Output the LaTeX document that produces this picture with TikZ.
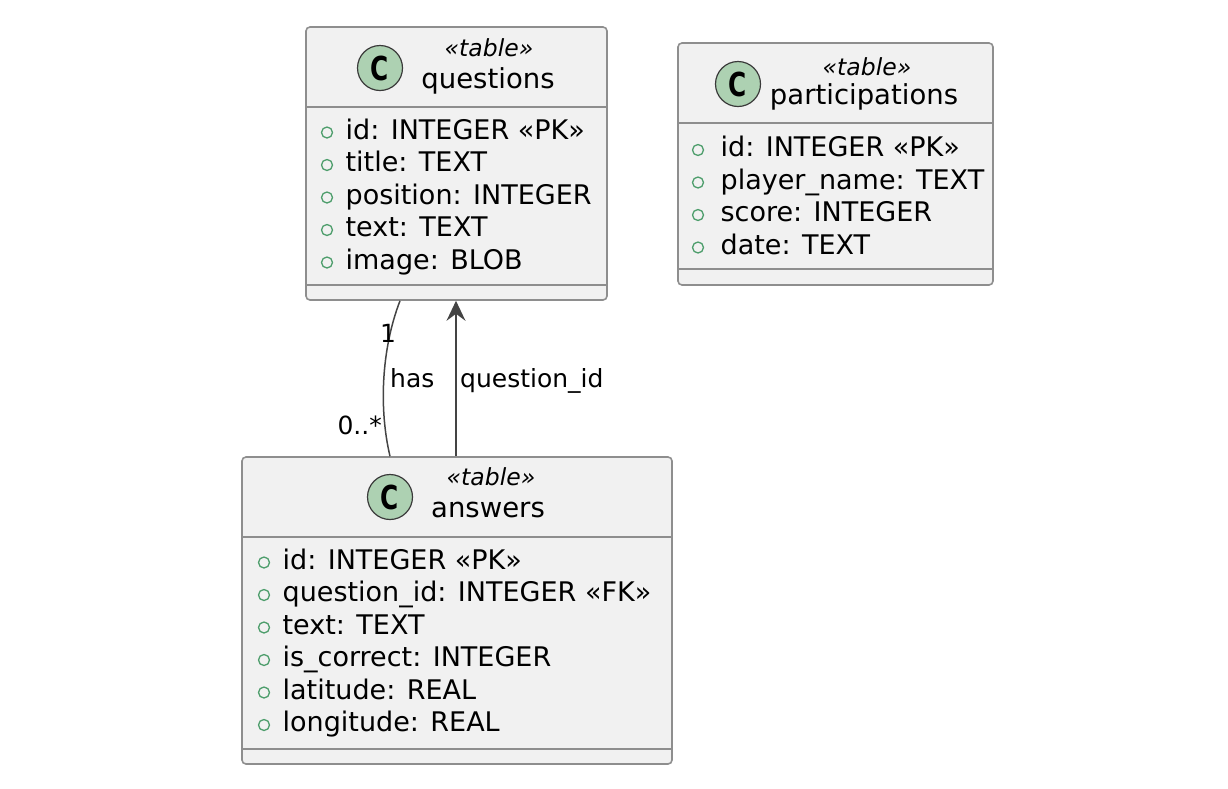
\documentclass[tikz,border=0pt]{standalone}
\usepackage{fontspec}
\setmainfont{DejaVu Sans}
\usepackage{graphicx}
\usetikzlibrary{arrows.meta}
\definecolor{boxfill}{HTML}{F1F1F1}
\definecolor{boxline}{HTML}{8E8E8E}
\definecolor{classfill}{HTML}{ADD1B2}
\definecolor{iconline}{HTML}{3A3A3A}
\definecolor{fieldgreen}{HTML}{4E9E6C}
\definecolor{linkline}{HTML}{444444}
\begin{document}
\begin{tikzpicture}[>={Stealth[length=20pt, width=19pt, inset=7pt]}, x=1pt, y=-1pt,
		tbl/.style={draw=boxline, fill=boxfill, line width=1.6pt, rounded corners=4pt, inner sep=0pt},
		sepline/.style={draw=boxline, line width=1.6pt},
		cicon/.style={circle, draw=iconline, fill=classfill, line width=1.2pt, minimum size=45pt, inner sep=0pt, font=\bfseries\fontsize{33}{33}\selectfont},
		stereo/.style={anchor=base, inner sep=0pt, font=\itshape\fontsize{23.5}{26}\selectfont},
		tname/.style={anchor=base, inner sep=0pt, font=\fontsize{27.5}{30}\selectfont},
		attr/.style={anchor=base west, inner sep=0pt, font=\fontsize{27}{30}\selectfont},
		pub/.style={draw=fieldgreen, line width=1.3pt},
		link/.style={draw=linkline, line width=1.5pt},
		lbl/.style={inner sep=0pt, font=\fontsize{25}{28}\selectfont}]
		\useasboundingbox (0,0) rectangle (1228,788);
		% questions
		\node[tbl, minimum width=301pt, minimum height=273pt] (questions) at (456.5,163.5) {};
		\draw[sepline] (questions.west |- 0,107) -- (questions.east |- 0,107);
		\draw[sepline] (questions.west |- 0,285) -- (questions.east |- 0,285);
		\node[cicon] (qicon) at (380,68) {\scalebox{0.75}[1]{C}};
		\node[stereo] (qstereo) at (489,56) {«table»};
		\node[tname] (qname) at (488,88) {questions};
		\draw[pub] (327,132.5) circle (5.5pt) node[attr] (q1) at (345,139) {id: INTEGER «PK»};
		\draw[pub] (327,165) circle (5.5pt) node[attr] (q2) at (345,171.5) {title: TEXT};
		\draw[pub] (327,197.5) circle (5.5pt) node[attr] (q3) at (345,204) {position: INTEGER};
		\draw[pub] (327,230) circle (5.5pt) node[attr] (q4) at (345,236.5) {text: TEXT};
		\draw[pub] (327,262.5) circle (5.5pt) node[attr] (q5) at (345,269) {image: BLOB};
		% participations
		\node[tbl, minimum width=315pt, minimum height=242pt] (participations) at (835.5,164) {};
		\draw[sepline] (participations.west |- 0,123) -- (participations.east |- 0,123);
		\draw[sepline] (participations.west |- 0,269) -- (participations.east |- 0,269);
		\node[cicon] (picon) at (738,84) {\scalebox{0.75}[1]{C}};
		\node[stereo] (pstereo) at (867,75) {«table»};
		\node[tname] (pname) at (864,104) {participations};
		\draw[pub] (698,150) circle (5.5pt) node[attr] (p1) at (720,156.5) {id: INTEGER «PK»};
		\draw[pub] (698,182.5) circle (5.5pt) node[attr] (p2) at (720,189) {player\_name: TEXT};
		\draw[pub] (698,215) circle (5.5pt) node[attr] (p3) at (720,221.5) {score: INTEGER};
		\draw[pub] (698,247.5) circle (5.5pt) node[attr] (p4) at (720,254) {date: TEXT};
		% answers
		\node[tbl, minimum width=430pt, minimum height=307pt] (answers) at (457,610.5) {};
		\draw[sepline] (answers.west |- 0,537) -- (answers.east |- 0,537);
		\draw[sepline] (answers.west |- 0,749) -- (answers.east |- 0,749);
		\node[cicon] (aicon) at (390,497) {\scalebox{0.75}[1]{C}};
		\node[stereo] (astereo) at (491,485) {«table»};
		\node[tname] (aname) at (488,517) {answers};
		\draw[pub] (264,562.5) circle (5.5pt) node[attr] (a1) at (282,569) {id: INTEGER «PK»};
		\draw[pub] (264,595) circle (5.5pt) node[attr] (a2) at (282,601.5) {question\_id: INTEGER «FK»};
		\draw[pub] (264,627.5) circle (5.5pt) node[attr] (a3) at (282,634) {text: TEXT};
		\draw[pub] (264,660) circle (5.5pt) node[attr] (a4) at (282,666.5) {is\_correct: INTEGER};
		\draw[pub] (264,692.5) circle (5.5pt) node[attr] (a5) at (282,699) {latitude: REAL};
		\draw[pub] (264,725) circle (5.5pt) node[attr] (a6) at (282,731.5) {longitude: REAL};
		% links
		\coordinate (hasq) at (questions.south -| 400,0);
		\coordinate (hasa) at (answers.north -| 390,0);
		\coordinate (fka) at (answers.north -| 456,0);
		\coordinate (fkq) at (questions.south -| 456,0);
		\draw[link] (hasq) .. controls (381,350) and (379,410) .. (hasa);
		\draw[link, ->] (fka) -- (fkq);
		\node[lbl, anchor=center] (one) at (388,333) {1};
		\node[lbl, anchor=east] (many) at (382,425) {0..*};
		\node[lbl, anchor=base west] (has) at (390,387) {has};
		\node[lbl, anchor=base west] (qidlbl) at (460,387) {question\_id};
		\end{tikzpicture}
\end{document}
